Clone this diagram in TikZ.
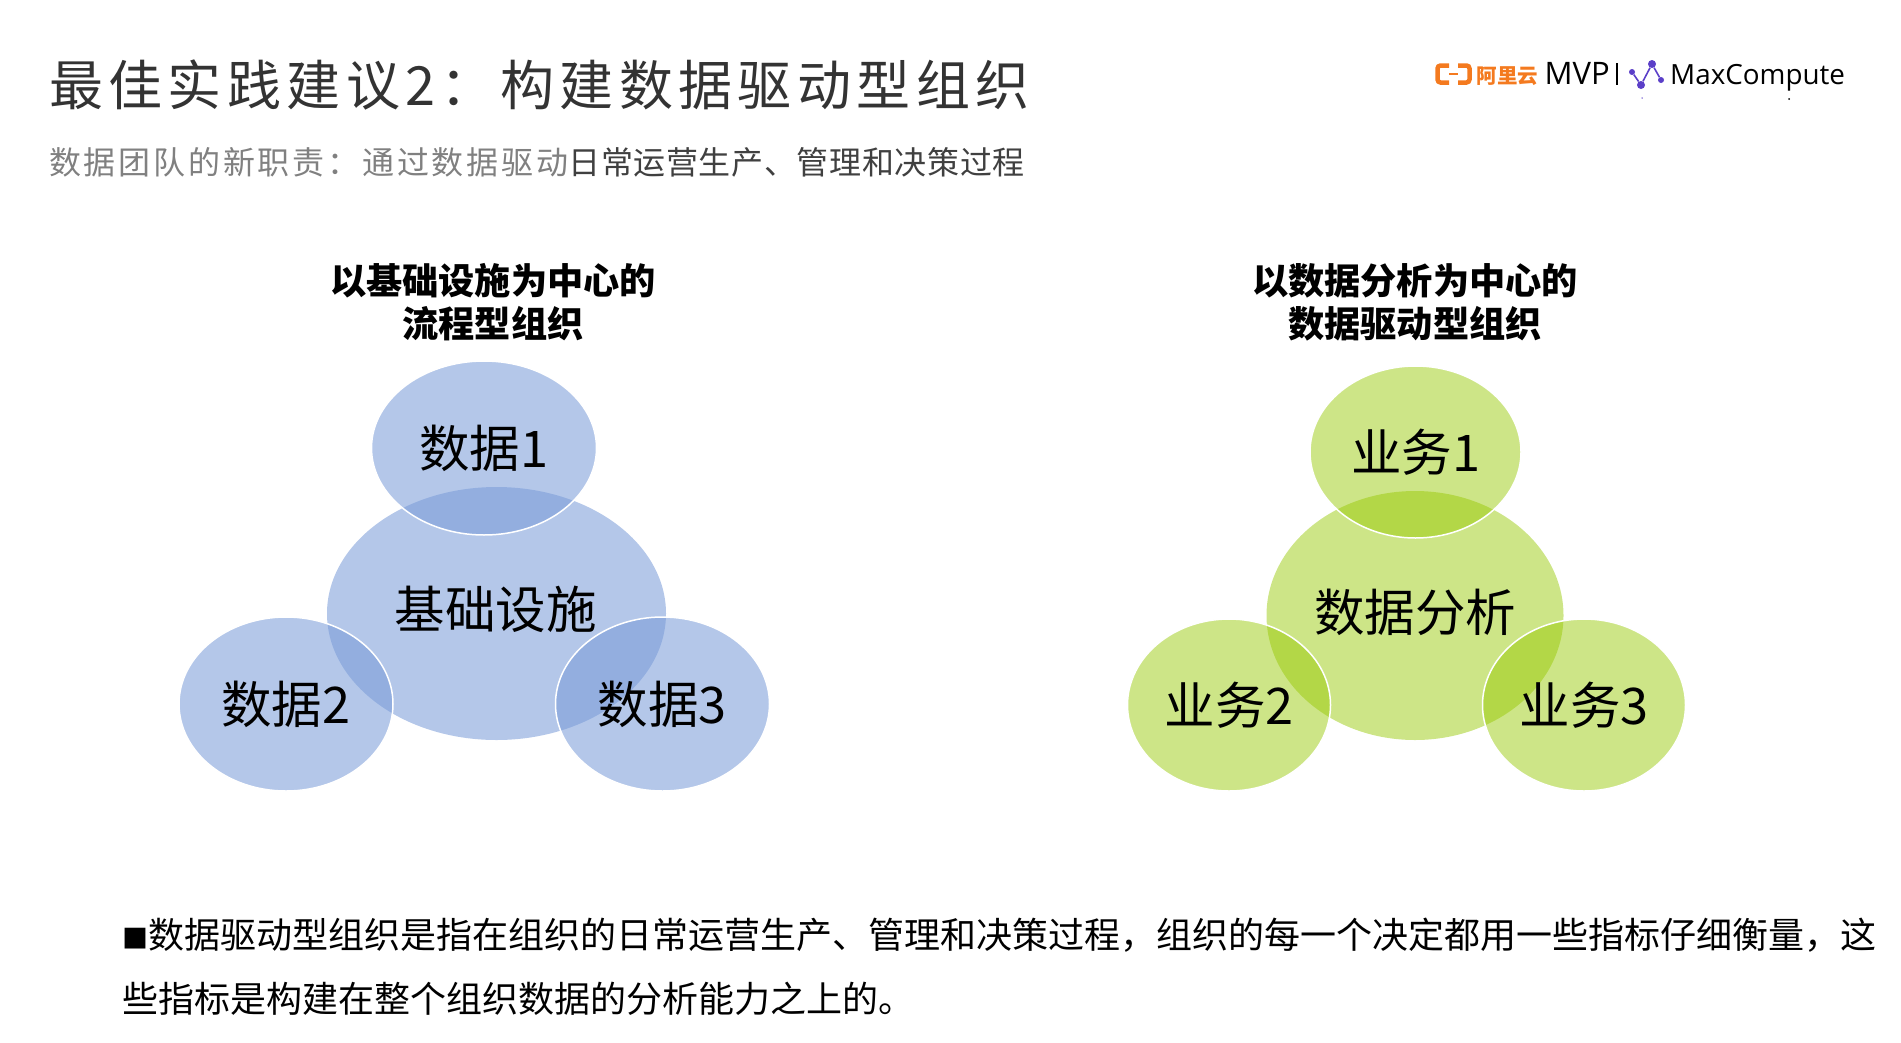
\documentclass[tikz,border=0pt]{standalone}
\usepackage{xcolor}
\usepackage{fontspec}
\setmainfont{Noto Sans CJK SC}
\newfontfamily\titlefont[LetterSpace=10]{Noto Sans CJK SC}
\newfontfamily\subfont[LetterSpace=8.75]{Noto Sans CJK SC}
\newfontfamily\subdarkfont[LetterSpace=2]{Noto Sans CJK SC}
\newfontfamily\logofont{Open Sans}
\usetikzlibrary{shapes.geometric}
\definecolor{dcblue}{RGB}{121,155,216}
\definecolor{dcgreen}{RGB}{149,200,0}
\definecolor{dcorange}{HTML}{F47A1F}
\definecolor{dcpurple}{HTML}{5B3FC8}
\definecolor{dcgrey}{HTML}{808080}
\definecolor{dcdark}{HTML}{404040}
\definecolor{dctitle}{HTML}{333333}
\newcommand{\fwcolon}{\symbol{"FF1A}}
\newcommand{\fwcomma}{\symbol{"FF0C}}

\begin{document}
\begin{tikzpicture}[x=1pt, y=-1pt,
        blob/.style={ellipse, inner sep=0pt, text opacity=1, draw=white, line width=1.5pt, font=\fontsize{50.5}{52}\selectfont},
        hub/.style={ellipse, inner sep=0pt},
        bluefill/.style={fill=dcblue, fill opacity=0.56},
        greenfill/.style={fill=dcgreen, fill opacity=0.47},
        blueblob/.style={blob, bluefill, minimum width=214pt, minimum height=174pt},
        greenblob/.style={blob, greenfill, minimum width=203pt, minimum height=172pt},
        lbl/.style={font=\fontsize{50.5}{52}\selectfont},
        head/.style={align=center, font=\fontsize{36.2}{43}\selectfont\bfseries},
        dot/.style={circle, fill=dcpurple, inner sep=0pt, minimum size=#1}]
        \useasboundingbox (0,0) rectangle (1901,1042);
        % header
        \node[anchor=base west, inner sep=0pt, dctitle, font=\fontsize{54}{54}\titlefont] (title) at (49,105) {最佳实践建议2\fwcolon 构建数据驱动型组织};
        \node[anchor=base west, inner sep=0pt, font=\fontsize{32}{32}\selectfont] (subtitle) at (49,174) {\textcolor{dcgrey}{\subfont 数据团队的新职责\fwcolon 通过数据驱动}\textcolor{dcdark}{\subdarkfont 日常运营生产、管理和决策过程}};
        % logo
        \draw[dcorange, line width=4.5pt, rounded corners=3pt] (1449,65.5) -- (1437.5,65.5) -- (1437.5,82.5) -- (1449,82.5);
        \draw[dcorange, line width=4.5pt, rounded corners=3pt] (1458,65.5) -- (1469.5,65.5) -- (1469.5,82.5) -- (1458,82.5);
        \draw[dcorange, line width=2.5pt] (1449,74) -- (1458,74);
        \node[anchor=base west, inner sep=0pt, dcorange, font=\fontsize{20.5}{20}\selectfont\bfseries] (aliyun) at (1476.5,83) {阿里云};
        \node[anchor=base west, inner sep=0pt, font=\fontsize{31}{31}\logofont] (mvp) at (1544.5,84.5) {MVP};
        \draw[line width=1.2pt] (1617,63) -- (1617,85);
        \node[dot=6pt] (g1) at (1632,72) {};
        \node[dot=8pt] (g2) at (1641,85) {};
        \node[dot=8pt] (g3) at (1652,64) {};
        \node[dot=6pt] (g4) at (1661,80) {};
        \draw[dcpurple, line width=1.6pt] (g1) -- (g2) -- (g3) -- (g4);
        \node[anchor=base west, inner sep=0pt, font=\fontsize{27.8}{28}\logofont] (maxc) at (1670,84) {MaxCompute};
        \node[dot=1.5pt] (speck1) at (1642,98) {};
        \node[circle, fill=black, inner sep=0pt, minimum size=2pt] (speck2) at (1789,99) {};
        % left group
        \node[head] (headA) at (493,302.5) {以基础设施为中心的\\流程型组织};
        \node[hub, bluefill, minimum width=339pt, minimum height=253pt] (infra) at (496.5,613.5) {};
        \node[lbl] (infralbl) at (495.5,609) {基础设施};
        \node[blueblob, minimum width=225pt] (d1) at (484,448) {数据1};
        \node[blueblob] (d2) at (286,704) {数据2};
        \node[blueblob] (d3) at (662.5,704) {数据3};
        % right group
        \node[head] (headB) at (1415,302.5) {以数据分析为中心的\\数据驱动型组织};
        \node[hub, greenfill, minimum width=297pt, minimum height=249pt] (analysis) at (1415,615.5) {};
        \node[lbl] (analysislbl) at (1415,612) {数据分析};
        \node[greenblob, minimum width=211pt] (b1) at (1415.5,452) {业务1};
        \node[greenblob] (b2) at (1229,705) {业务2};
        \node[greenblob] (b3) at (1584,705) {业务3};
        % footer
        \node[anchor=north west, inner sep=0pt, align=left, font=\fontsize{36}{64}\selectfont] (note) at (122,918) {{\fontsize{26}{64}\selectfont ■}数据驱动型组织是指在组织的日常运营生产、管理和决策过程\fwcomma 组织的每一个决定都用一些指标仔细衡量\fwcomma 这\\些指标是构建在整个组织数据的分析能力之上的。};
      \end{tikzpicture}
\end{document}
